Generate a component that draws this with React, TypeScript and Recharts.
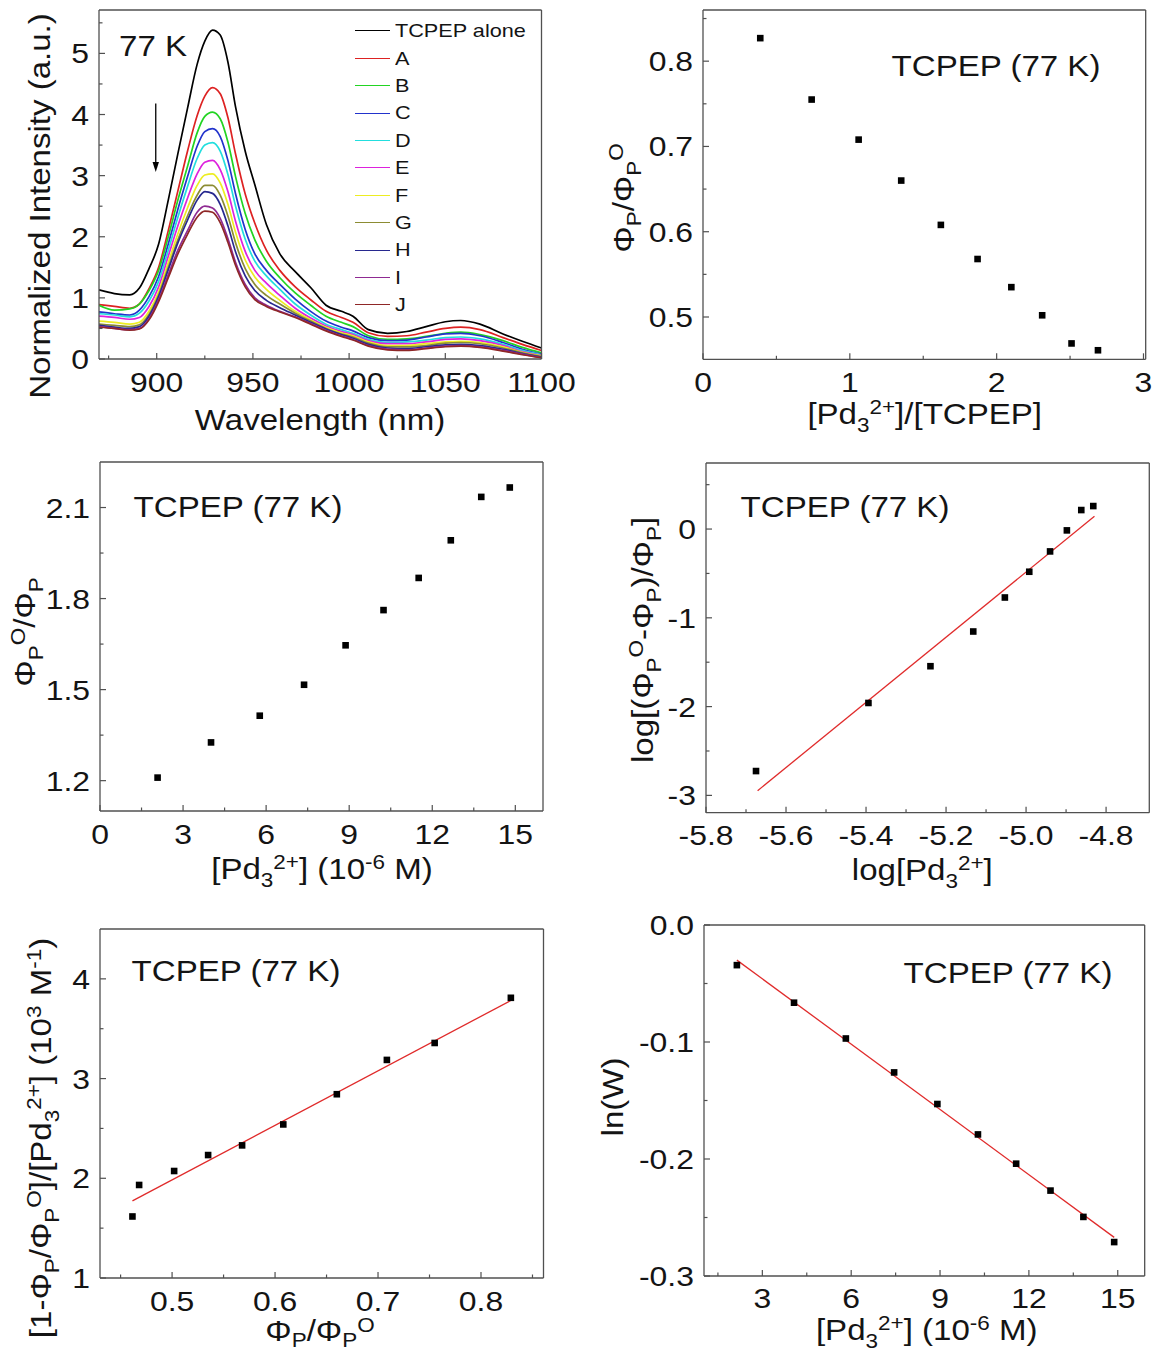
import React from 'react';
import { ComposedChart, Line, Scatter, XAxis, YAxis, ReferenceLine, Legend } from 'recharts';

const FONT = '"Liberation Sans", Arial, Helvetica, sans-serif';
const SX = 1.14;
const AX = '#505050';
const INK = '#141414';
const FIT = '#e02b2b';
const ML = 110, MT = 24, MR = 52, MB = 92;

// ---------- Panel 1: emission spectra ----------
const WAVELENGTH = [870, 878, 886, 891, 896, 901, 906, 911, 916, 921, 925, 929, 933, 937, 941, 946, 951, 957, 964, 972, 980, 988, 996, 1002, 1010, 1020, 1030, 1040, 1050, 1058, 1068, 1080, 1090, 1100];
const TCPEP_ALONE = [1.13, 1.07, 1.05, 1.16, 1.48, 1.88, 2.6, 3.36, 4.1, 4.82, 5.2, 5.38, 5.3, 4.86, 4.12, 3.4, 2.85, 2.2, 1.72, 1.43, 1.17, 0.88, 0.78, 0.7, 0.48, 0.42, 0.45, 0.53, 0.61, 0.63, 0.57, 0.41, 0.29, 0.18];
const SPEC_A = [0.89, 0.86, 0.83, 0.9, 1.15, 1.5, 2.1, 2.75, 3.4, 3.98, 4.3, 4.44, 4.34, 3.95, 3.35, 2.7, 2.22, 1.78, 1.45, 1.18, 0.97, 0.78, 0.68, 0.6, 0.43, 0.37, 0.38, 0.44, 0.5, 0.52, 0.48, 0.35, 0.24, 0.14];
const SPEC_B = [0.88, 0.8, 0.82, 0.9, 1.12, 1.45, 2.0, 2.6, 3.15, 3.7, 3.97, 4.04, 3.93, 3.55, 2.98, 2.38, 1.95, 1.6, 1.33, 1.08, 0.88, 0.7, 0.6, 0.53, 0.38, 0.32, 0.33, 0.37, 0.42, 0.44, 0.4, 0.3, 0.19, 0.1];
const SPEC_C = [0.77, 0.74, 0.72, 0.8, 1.02, 1.35, 1.88, 2.45, 2.98, 3.48, 3.72, 3.77, 3.64, 3.25, 2.7, 2.12, 1.72, 1.45, 1.22, 0.98, 0.78, 0.62, 0.52, 0.46, 0.35, 0.3, 0.31, 0.36, 0.41, 0.42, 0.38, 0.27, 0.16, 0.08];
const SPEC_D = [0.74, 0.72, 0.69, 0.75, 0.95, 1.27, 1.78, 2.32, 2.82, 3.28, 3.5, 3.54, 3.4, 3.02, 2.5, 1.96, 1.6, 1.36, 1.14, 0.9, 0.72, 0.57, 0.48, 0.42, 0.32, 0.27, 0.28, 0.31, 0.35, 0.36, 0.33, 0.24, 0.14, 0.07];
const SPEC_E = [0.7, 0.68, 0.65, 0.68, 0.86, 1.18, 1.68, 2.18, 2.63, 3.03, 3.22, 3.25, 3.1, 2.74, 2.25, 1.76, 1.45, 1.24, 1.04, 0.83, 0.67, 0.54, 0.45, 0.4, 0.3, 0.25, 0.25, 0.28, 0.32, 0.33, 0.3, 0.22, 0.12, 0.06];
const SPEC_F = [0.62, 0.6, 0.57, 0.6, 0.78, 1.1, 1.58, 2.05, 2.47, 2.84, 3.01, 3.03, 2.88, 2.53, 2.07, 1.62, 1.34, 1.14, 0.96, 0.78, 0.64, 0.52, 0.43, 0.38, 0.28, 0.22, 0.22, 0.25, 0.28, 0.29, 0.27, 0.2, 0.11, 0.05];
const SPEC_G = [0.57, 0.55, 0.53, 0.56, 0.73, 1.05, 1.5, 1.95, 2.34, 2.68, 2.84, 2.84, 2.68, 2.34, 1.9, 1.48, 1.22, 1.04, 0.9, 0.75, 0.62, 0.5, 0.41, 0.36, 0.26, 0.2, 0.2, 0.22, 0.26, 0.27, 0.25, 0.18, 0.1, 0.04];
const SPEC_H = [0.55, 0.52, 0.5, 0.53, 0.7, 1.02, 1.46, 1.9, 2.27, 2.6, 2.74, 2.71, 2.53, 2.18, 1.75, 1.36, 1.12, 0.96, 0.84, 0.72, 0.6, 0.49, 0.4, 0.34, 0.24, 0.18, 0.17, 0.2, 0.23, 0.24, 0.22, 0.16, 0.09, 0.03];
const SPEC_I = [0.53, 0.5, 0.48, 0.5, 0.66, 0.97, 1.38, 1.78, 2.1, 2.4, 2.5, 2.47, 2.3, 1.97, 1.58, 1.22, 1.0, 0.88, 0.78, 0.69, 0.58, 0.47, 0.38, 0.32, 0.22, 0.16, 0.15, 0.18, 0.21, 0.22, 0.2, 0.14, 0.08, 0.02];
const SPEC_J = [0.52, 0.5, 0.47, 0.49, 0.64, 0.94, 1.33, 1.72, 2.04, 2.32, 2.42, 2.4, 2.23, 1.91, 1.53, 1.18, 0.97, 0.86, 0.77, 0.68, 0.57, 0.46, 0.37, 0.31, 0.21, 0.15, 0.14, 0.17, 0.2, 0.21, 0.19, 0.13, 0.07, 0.02];
const SPEC_NAMES = ['TCPEP alone', 'A', 'B', 'C', 'D', 'E', 'F', 'G', 'H', 'I', 'J'];
const SPEC_COLORS = ['#000000', '#dd2222', '#22d422', '#2233cc', '#22dede', '#dd22dd', '#eded22', '#8c8c33', '#27288f', '#8f2a92', '#8f2727'];
const SPEC_VALUES = [TCPEP_ALONE, SPEC_A, SPEC_B, SPEC_C, SPEC_D, SPEC_E, SPEC_F, SPEC_G, SPEC_H, SPEC_I, SPEC_J];
const ARROW_X = 899.5;
const ARROW_Y = [4.18, 3.06];

// ---------- Panel 2: ΦP/ΦP0 vs ratio ----------
const RATIO = [0.39, 0.74, 1.06, 1.35, 1.62, 1.87, 2.10, 2.31, 2.51, 2.69];
const PHI_RATIO = [0.827, 0.755, 0.708, 0.66, 0.608, 0.568, 0.535, 0.502, 0.469, 0.461];

// ---------- Panel 3: Stern-Volmer ----------
const CONC_SV = [2.08, 4.01, 5.77, 7.37, 8.87, 10.24, 11.51, 12.67, 13.77, 14.8];
const SV_RATIO = [1.21, 1.326, 1.414, 1.516, 1.646, 1.762, 1.868, 1.992, 2.135, 2.166];

// ---------- Panel 4: double-log ----------
const LOG_CONC = [-5.675, -5.394, -5.239, -5.132, -5.053, -4.992, -4.94, -4.898, -4.862, -4.832];
const LOG_Q = [-2.726, -1.959, -1.545, -1.154, -0.771, -0.481, -0.252, -0.015, 0.214, 0.259];
const LOG_FIT_X = [-5.671, -4.829];
const LOG_FIT_Y = [-2.947, 0.143];

// ---------- Panel 5 ----------
const PHI_X5 = [0.4615, 0.468, 0.502, 0.535, 0.568, 0.608, 0.66, 0.7086, 0.755, 0.829];
const K_Y5 = [1.617, 1.933, 2.073, 2.233, 2.33, 2.54, 2.843, 3.187, 3.357, 3.81];
const FIT5_X = [0.4615, 0.829];
const FIT5_Y = [1.773, 3.783];

// ---------- Panel 6 ----------
const CONC_W = [2.14, 4.07, 5.82, 7.45, 8.91, 10.28, 11.57, 12.73, 13.84, 14.88];
const LN_W = [-0.0343, -0.0664, -0.097, -0.126, -0.153, -0.179, -0.204, -0.227, -0.2495, -0.271];
const FIT6_X = [2.14, 14.88];
const FIT6_Y = [-0.03, -0.267];

const pairs = (xs: number[], ys: number[]) => xs.map((x, i) => ({ x, y: ys[i] }));
const specRows = WAVELENGTH.map((w, i) => {
  const r: any = { x: w };
  SPEC_VALUES.forEach((s, k) => { r['s' + k] = s[i]; });
  return r;
});

type Seg = { t: string; s?: 'b' | 'p' };
const n = (t: string): Seg => ({ t });
const sb = (t: string): Seg => ({ t, s: 'b' });
const sp = (t: string): Seg => ({ t, s: 'p' });

function rich(segs: Seg[], size: number, subK = 0.26, supK = 0.36) {
  let cur = 0;
  return segs.map((g, i) => {
    const target = g.s === 'b' ? size * subK : g.s === 'p' ? -size * supK : 0;
    const dy = target - cur;
    cur = target;
    return (
      <tspan key={i} dy={dy} fontSize={g.s ? size * 0.68 : size}>
        {g.t}
      </tspan>
    );
  });
}

const near = (a: number[], v: number) => a.some((m) => Math.abs(m - v) < 1e-7);

function xTick(p: any, maj: number[], fmt: (v: number) => string) {
  const { x, y, payload } = p;
  const v = payload.value;
  const M = near(maj, v);
  return (
    <g>
      <line x1={x} x2={x} y1={y} y2={y - (M ? 6 : 3.5)} stroke={AX} strokeWidth={1.2} />
      {M ? (
        <text transform={`translate(${x} ${y + 32.5}) scale(${SX} 1)`} textAnchor="middle" fontFamily={FONT} fontSize={28} fill={INK}>
          {fmt(v)}
        </text>
      ) : null}
    </g>
  );
}

function yTick(p: any, maj: number[], fmt: (v: number) => string) {
  const { x, y, payload } = p;
  const v = payload.value;
  const M = near(maj, v);
  return (
    <g>
      <line x1={x} x2={x + (M ? 6 : 3.5)} y1={y} y2={y} stroke={AX} strokeWidth={1.2} />
      {M ? (
        <text transform={`translate(${x - 10} ${y + 10}) scale(${SX} 1)`} textAnchor="end" fontFamily={FONT} fontSize={28} fill={INK}>
          {fmt(v)}
        </text>
      ) : null}
    </g>
  );
}

type Frame = { l: number; t: number; w: number; h: number };

interface PanelProps {
  f: Frame;
  xd: [number, number];
  yd: [number, number];
  xMaj: number[];
  xMin: number[];
  yMaj: number[];
  yMin: number[];
  xFmt: (v: number) => string;
  yFmt: (v: number) => string;
  xTitle: Seg[];
  xTitleAt: [number, number];
  xShift?: [number, number];
  yTitle: Seg[];
  yTitleAt: [number, number];
  data?: any[];
  children?: React.ReactNode;
}

function Panel(p: PanelProps) {
  const ox = p.f.l - ML;
  const oy = p.f.t - MT;
  const W = p.f.w + ML + MR;
  const H = p.f.h + MT + MB;
  const xt = [...p.xMaj, ...p.xMin].sort((a, b) => a - b);
  const yt = [...p.yMaj, ...p.yMin].sort((a, b) => a - b);
  const axisLine = { stroke: AX, strokeWidth: 1.3 };
  const xs = p.xShift || [0.26, 0.36];
  const xLabel = () => (
    <text transform={`translate(${p.xTitleAt[0] - ox} ${p.xTitleAt[1] - oy}) scale(${SX} 1)`} textAnchor="middle" fontFamily={FONT} fontSize={29} fill={INK}>
      {rich(p.xTitle, 29, xs[0], xs[1])}
    </text>
  );
  const yLabel = () => (
    <text transform={`translate(${p.yTitleAt[0] - ox} ${p.yTitleAt[1] - oy}) rotate(-90) scale(${SX} 1)`} textAnchor="middle" fontFamily={FONT} fontSize={29} fill={INK}>
      {rich(p.yTitle, 29)}
    </text>
  );
  return (
    <div style={{ position: 'absolute', left: ox, top: oy, width: W, height: H }}>
      <ComposedChart width={W} height={H} data={p.data} margin={{ top: MT - 1, right: MR - 1, bottom: MB - 1, left: ML - 1 }}>
        <XAxis
          dataKey="x"
          type="number"
          domain={p.xd}
          allowDataOverflow
          ticks={xt}
          interval={0}
          height={1}
          tickSize={0}
          tickMargin={0}
          tickLine={false}
          axisLine={axisLine}
          tick={(tp: any) => xTick(tp, p.xMaj, p.xFmt)}
          label={{ content: xLabel }}
        />
        <YAxis
          dataKey="y"
          type="number"
          domain={p.yd}
          allowDataOverflow
          ticks={yt}
          interval={0}
          width={1}
          tickSize={0}
          tickMargin={0}
          tickLine={false}
          axisLine={axisLine}
          tick={(tp: any) => yTick(tp, p.yMaj, p.yFmt)}
          label={{ content: yLabel }}
        />
        <XAxis xAxisId="top" orientation="top" type="number" domain={p.xd} allowDataOverflow height={1} tick={false} tickLine={false} axisLine={axisLine} />
        <YAxis yAxisId="right" orientation="right" type="number" domain={p.yd} allowDataOverflow width={1} tick={false} tickLine={false} axisLine={axisLine} />
        {p.children}
      </ComposedChart>
    </div>
  );
}

const square = (s: any) => <rect x={s.cx - 3.3} y={s.cy - 3.3} width={6.6} height={6.6} fill="#000" />;

const Arrow = (a: any) => {
  const { x1, y1, x2, y2 } = a;
  return (
    <g>
      <line x1={x1} y1={y1} x2={x2} y2={y2 - 8} stroke="#000" strokeWidth={1.3} />
      <path d={`M${x2 - 3.2},${y2 - 10} L${x2 + 3.2},${y2 - 10} L${x2},${y2} Z`} fill="#000" />
    </g>
  );
};

function SpecLegend() {
  return (
    <div style={{ fontFamily: FONT }}>
      {SPEC_NAMES.map((nm, i) => (
        <div key={nm} style={{ display: 'flex', alignItems: 'center', height: 27.4 }}>
          <div style={{ width: 35, height: 0, borderTop: `1.8px solid ${SPEC_COLORS[i]}` }} />
          <span
            style={{
              marginLeft: 5,
              fontSize: 19,
              lineHeight: '27.4px',
              color: INK,
              whiteSpace: 'nowrap',
              display: 'inline-block',
              transform: `scaleX(${SX})`,
              transformOrigin: '0 50%',
            }}
          >
            {nm}
          </span>
        </div>
      ))}
    </div>
  );
}

function Note({ text, cx, cy, left }: { text: string; cx?: number; cy: number; left?: number }) {
  const base: React.CSSProperties = {
    position: 'absolute',
    top: cy - 14.2,
    fontFamily: FONT,
    fontSize: 29,
    lineHeight: '29px',
    color: INK,
    whiteSpace: 'nowrap',
  };
  if (left !== undefined) {
    return <div style={{ ...base, left, transform: `scaleX(${SX})`, transformOrigin: '0 50%' }}>{text}</div>;
  }
  return <div style={{ ...base, left: cx, transform: `translateX(-50%) scaleX(${SX})`, transformOrigin: '50% 50%' }}>{text}</div>;
}

const F1: Frame = { l: 99, t: 10, w: 442.5, h: 349 };
const F2: Frame = { l: 703.3, t: 10, w: 442.7, h: 349.3 };
const F3: Frame = { l: 100, t: 462, w: 443, h: 349 };
const F4: Frame = { l: 705.7, t: 463, w: 443.3, h: 349.7 };
const F5: Frame = { l: 100, t: 929, w: 443.5, h: 349 };
const F6: Frame = { l: 704.3, t: 925, w: 440.7, h: 351 };

const int = (v: number) => String(Math.round(v));
const d1 = (v: number) => v.toFixed(1);

const PD = [n('[Pd'), sb('3'), sp('2+'), n(']')];

export default function App() {
  return (
    <div style={{ position: 'absolute', left: 0, top: 0, width: 1156, height: 1352, background: '#fff', overflow: 'hidden' }}>
      {/* Panel 1 */}
      <Panel
        f={F1}
        xd={[870, 1100]}
        yd={[0, 5.71]}
        xMaj={[900, 950, 1000, 1050, 1100]}
        xMin={[875, 925, 975, 1025, 1075]}
        yMaj={[0, 1, 2, 3, 4, 5]}
        yMin={[0.5, 1.5, 2.5, 3.5, 4.5, 5.5]}
        xFmt={int}
        yFmt={int}
        xTitle={[n('Wavelength (nm)')]}
        xTitleAt={[320, 430]}
        yTitle={[n('Normalized Intensity (a.u.)')]}
        yTitleAt={[49.5, 206]}
        data={specRows}
      >
        {SPEC_VALUES.map((_, k) => (
          <Line
            key={k}
            dataKey={'s' + k}
            name={SPEC_NAMES[k]}
            type="monotone"
            stroke={SPEC_COLORS[k]}
            strokeWidth={1.7}
            dot={false}
            isAnimationActive={false}
          />
        ))}
        <ReferenceLine segment={[{ x: ARROW_X, y: ARROW_Y[0] }, { x: ARROW_X, y: ARROW_Y[1] }]} shape={Arrow} />
        <Legend
          layout="vertical"
          align="center"
          verticalAlign="middle"
          wrapperStyle={{ left: 355 - (F1.l - ML), top: 17.3 - (F1.t - MT), width: 200 }}
          content={() => <SpecLegend />}
        />
      </Panel>

      {/* Panel 2 */}
      <Panel
        f={F2}
        xd={[0, 3.015]}
        yd={[0.4504, 0.86]}
        xMaj={[0, 1, 2, 3]}
        xMin={[0.5, 1.5, 2.5]}
        yMaj={[0.5, 0.6, 0.7, 0.8]}
        yMin={[0.55, 0.65, 0.75, 0.85]}
        xFmt={int}
        yFmt={d1}
        xTitle={[...PD, n('/[TCPEP]')]}
        xTitleAt={[925, 424]}
        yTitle={[n('Φ'), sb('P'), n('/Φ'), sb('P'), sp('O')]}
        yTitleAt={[634, 198]}
      >
        <Scatter data={pairs(RATIO, PHI_RATIO)} shape={square} isAnimationActive={false} />
      </Panel>

      {/* Panel 3 */}
      <Panel
        f={F3}
        xd={[0, 16]}
        yd={[1.1, 2.25]}
        xMaj={[0, 3, 6, 9, 12, 15]}
        xMin={[1.5, 4.5, 7.5, 10.5, 13.5]}
        yMaj={[1.2, 1.5, 1.8, 2.1]}
        yMin={[1.35, 1.65, 1.95]}
        xFmt={int}
        yFmt={d1}
        xTitle={[...PD, n(' (10'), sp('-6'), n(' M)')]}
        xTitleAt={[322, 879]}
        yTitle={[n('Φ'), sb('P'), sp('O'), n('/Φ'), sb('P')]}
        yTitleAt={[35, 632]}
      >
        <Scatter data={pairs(CONC_SV, SV_RATIO)} shape={square} isAnimationActive={false} />
      </Panel>

      {/* Panel 4 */}
      <Panel
        f={F4}
        xd={[-5.8, -4.692]}
        yd={[-3.195, 0.744]}
        xMaj={[-5.8, -5.6, -5.4, -5.2, -5.0, -4.8]}
        xMin={[-5.7, -5.5, -5.3, -5.1, -4.9]}
        yMaj={[-3, -2, -1, 0]}
        yMin={[-2.5, -1.5, -0.5, 0.5]}
        xFmt={d1}
        yFmt={int}
        xTitle={[n('log'), ...PD]}
        xTitleAt={[922, 880]}
        yTitle={[n('log[(Φ'), sb('P'), sp('O'), n('-Φ'), sb('P'), n(')/Φ'), sb('P'), n(']')]}
        yTitleAt={[653, 640]}
      >
        <Line data={pairs(LOG_FIT_X, LOG_FIT_Y)} dataKey="y" type="linear" stroke={FIT} strokeWidth={1.3} dot={false} isAnimationActive={false} />
        <Scatter data={pairs(LOG_CONC, LOG_Q)} shape={square} isAnimationActive={false} />
      </Panel>

      {/* Panel 5 */}
      <Panel
        f={F5}
        xd={[0.43, 0.8607]}
        yd={[1, 4.5]}
        xMaj={[0.5, 0.6, 0.7, 0.8]}
        xMin={[0.45, 0.55, 0.65, 0.75, 0.85]}
        yMaj={[1, 2, 3, 4]}
        yMin={[1.5, 2.5, 3.5]}
        xFmt={d1}
        yFmt={int}
        xTitle={[n('Φ'), sb('P'), n('/Φ'), sb('P'), sp('O')]}
        xTitleAt={[320, 1341]}
        xShift={[0.2, 0.3]}
        yTitle={[n('[1-Φ'), sb('P'), n('/Φ'), sb('P'), sp('O'), n(']/'), ...PD, n(' (10'), sp('3'), n(' M'), sp('-1'), n(')')]}
        yTitleAt={[51, 1138]}
      >
        <Line data={pairs(FIT5_X, FIT5_Y)} dataKey="y" type="linear" stroke={FIT} strokeWidth={1.3} dot={false} isAnimationActive={false} />
        <Scatter data={pairs(PHI_X5, K_Y5)} shape={square} isAnimationActive={false} />
      </Panel>

      {/* Panel 6 */}
      <Panel
        f={F6}
        xd={[1.03, 15.91]}
        yd={[-0.3, 0]}
        xMaj={[3, 6, 9, 12, 15]}
        xMin={[1.5, 4.5, 7.5, 10.5, 13.5]}
        yMaj={[-0.3, -0.2, -0.1, 0]}
        yMin={[-0.25, -0.15, -0.05]}
        xFmt={int}
        yFmt={d1}
        xTitle={[...PD, n(' (10'), sp('-6'), n(' M)')]}
        xTitleAt={[927, 1340]}
        yTitle={[n('ln(W)')]}
        yTitleAt={[623, 1097]}
      >
        <Line data={pairs(FIT6_X, FIT6_Y)} dataKey="y" type="linear" stroke={FIT} strokeWidth={1.3} dot={false} isAnimationActive={false} />
        <Scatter data={pairs(CONC_W, LN_W)} shape={square} isAnimationActive={false} />
      </Panel>

      <Note text="77 K" left={118.5} cy={46} />
      <Note text="TCPEP (77 K)" cx={996} cy={66} />
      <Note text="TCPEP (77 K)" cx={238} cy={507} />
      <Note text="TCPEP (77 K)" cx={845} cy={507} />
      <Note text="TCPEP (77 K)" cx={236} cy={971} />
      <Note text="TCPEP (77 K)" cx={1008} cy={973} />
    </div>
  );
}
